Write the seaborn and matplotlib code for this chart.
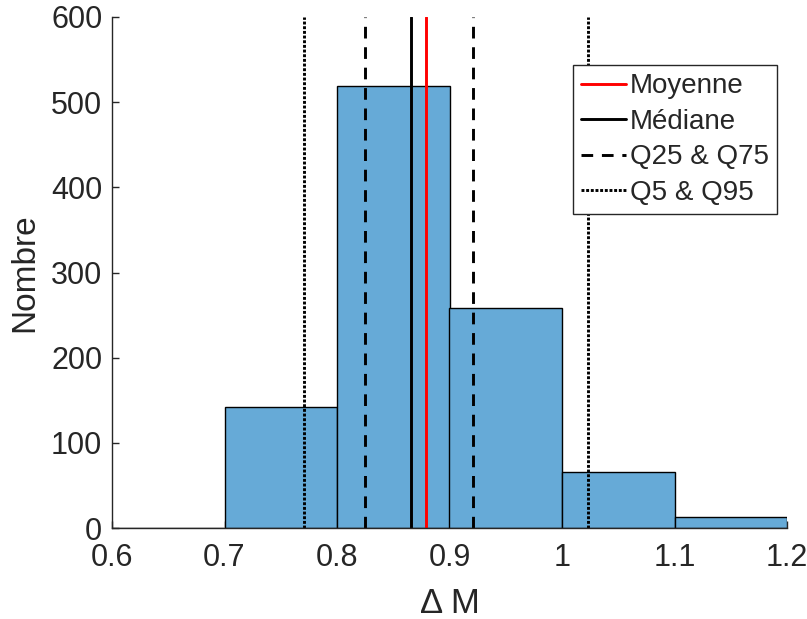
import matplotlib
matplotlib.use("Agg")
import matplotlib.pyplot as plt
import seaborn as sns
import numpy as np

bin_edges = [0.6, 0.7, 0.8, 0.9, 1.0, 1.1, 1.2]
counts = [0, 142, 519, 258, 66, 13]
mean_val = 0.879
median_val = 0.866
q25, q75 = 0.825, 0.921
q5, q95 = 0.771, 1.023

sns.set_style("ticks")
plt.rcParams['font.family'] = ['Liberation Sans', 'DejaVu Sans']

fig = plt.figure(figsize=(8.07, 6.19), dpi=100)
ax = fig.add_axes([112/807, 1-528/619, (787-112)/807, (528-17)/619])

centers = [(bin_edges[i] + bin_edges[i+1]) / 2 for i in range(len(counts))]
sns.histplot(x=centers, weights=counts, bins=bin_edges, ax=ax,
             color="#66AAD7", alpha=1.0, edgecolor="black", linewidth=1.0)

ax.axvline(mean_val, color="red", lw=2.1, label="Moyenne")
ax.axvline(median_val, color="black", lw=2.1, label="Médiane")
ax.axvline(q25, color="black", lw=2.1, ls=(0, (4, 3)), label="Q25 & Q75")
ax.axvline(q75, color="black", lw=2.1, ls=(0, (4, 3)))
ax.axvline(q5, color="black", lw=2.1, ls=(0, (1, 0.6)), label="Q5 & Q95")
ax.axvline(q95, color="black", lw=2.1, ls=(0, (1, 0.6)))

ax.set_xlim(0.6, 1.2)
ax.set_ylim(0, 600)
ax.set_xticks([0.6, 0.7, 0.8, 0.9, 1.0, 1.1, 1.2])
ax.set_xticklabels(["0.6", "0.7", "0.8", "0.9", "1", "1.1", "1.2"])
ax.set_yticks([0, 100, 200, 300, 400, 500, 600])
ax.tick_params(direction="in", labelsize=22, length=5, width=1, colors="#262626")
ax.tick_params(axis="x", pad=11)
ax.tick_params(axis="y", pad=7)
ax.set_xlabel("Δ M", fontsize=25, labelpad=10, color="#262626")
ax.set_ylabel("Nombre", fontsize=24, labelpad=8, color="#262626")
for s in ["top", "right"]:
    ax.spines[s].set_visible(False)
for s in ["left", "bottom"]:
    ax.spines[s].set_color("#262626")
    ax.spines[s].set_linewidth(1)

leg = ax.legend(loc="upper left", bbox_to_anchor=(0.683, 0.906), fontsize=20,
                frameon=True, fancybox=False, edgecolor="#262626", framealpha=1,
                handlelength=1.6, handletextpad=0.15, borderpad=0.3,
                labelspacing=0.34, borderaxespad=0)
leg.get_frame().set_linewidth(1)

fig.savefig("out.png", dpi=100)
